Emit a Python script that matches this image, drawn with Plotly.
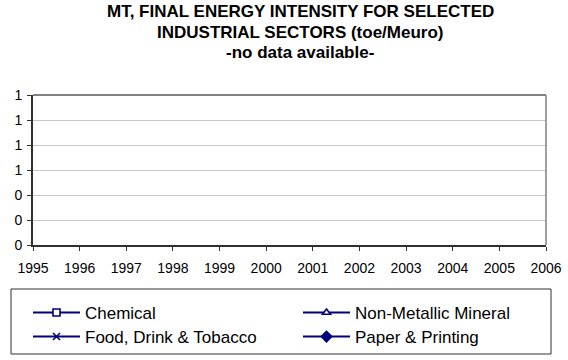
import plotly.graph_objects as go

years = [1995, 1996, 1997, 1998, 1999, 2000, 2001, 2002, 2003, 2004, 2005, 2006]
chemical = [None, None, None, None, None, None, None, None, None, None, None, None]
non_metallic = [None, None, None, None, None, None, None, None, None, None, None, None]
food = [None, None, None, None, None, None, None, None, None, None, None, None]
paper = [None, None, None, None, None, None, None, None, None, None, None, None]

series_names = ["Chemical", "Non-Metallic Mineral", "Food, Drink & Tobacco", "Paper & Printing"]
series_values = [chemical, non_metallic, food, paper]
symbols = ["square", "triangle-up", "x-thin-open", "diamond"]
marker_fills = ["white", "white", "#000080", "#000080"]
marker_sizes = [7, 7, 7, 8]
title_lines = ["MT, FINAL ENERGY INTENSITY FOR SELECTED",
               "INDUSTRIAL SECTORS (toe/Meuro)",
               "-no data available-"]

FONT = "Arial, Liberation Sans, Helvetica, sans-serif"
NAVY = "#000080"
W, H = 568, 360
L, R, T, B = 33, 546, 95, 245  # plot area in px


def px_x(px):
    return (px - L) / (R - L)


def px_y(py):
    return (B - py) / (B - T)


# legend slots: (legend id, left px of item, center y px)
legend_ids = ["legend", "legend2", "legend3", "legend4"]
legend_pos = [(28, 313), (298, 313), (28, 337), (298, 337)]

fig = go.Figure()
for name, vals, sym, fill, msize, lid in zip(series_names, series_values, symbols,
                                             marker_fills, marker_sizes, legend_ids):
    fig.add_trace(go.Scatter(
        x=years, y=vals, name=name, mode="lines+markers",
        line=dict(color=NAVY, width=2),
        marker=dict(symbol=sym, size=msize, color=fill, line=dict(color=NAVY, width=1.6)),
        showlegend=True, legend=lid,
    ))

legend_layout = {}
for lid, (lx, ly) in zip(legend_ids, legend_pos):
    legend_layout[lid] = dict(
        x=lx / W, xanchor="left", y=1 - ly / H, yanchor="middle",
        xref="container", yref="container",
        borderwidth=0, bgcolor="rgba(0,0,0,0)",
        font=dict(family=FONT, size=17, color="black"),
        itemwidth=47,
    )

fig.update_layout(
    width=W, height=H,
    margin=dict(l=L, r=W - R, t=T, b=H - B, autoexpand=False),
    paper_bgcolor="white", plot_bgcolor="white",
    font=dict(family=FONT, size=14, color="black"),
    xaxis=dict(
        range=[years[0], years[-1]], tickmode="array", tickvals=years,
        ticktext=[str(y) for y in years],
        showline=True, linecolor="#303030", linewidth=1.5,
        ticks="outside", ticklen=4, tickcolor="#303030", tickwidth=1,
        showgrid=False, zeroline=False, automargin=False,
        ticklabelstandoff=5,
        tickfont=dict(family=FONT, size=14, color="black"),
    ),
    yaxis=dict(
        range=[0, 1.2], tickmode="linear", tick0=0, dtick=0.2, tickformat=".0f",
        showline=True, linecolor="#303030", linewidth=2,
        ticks="outside", ticklen=4, tickcolor="#303030", tickwidth=1,
        showgrid=True, gridcolor="#c8c8c8", gridwidth=1,
        zeroline=False, ticklabelstandoff=2, automargin=False,
        tickfont=dict(family=FONT, size=14, color="black"),
    ),
    **legend_layout,
)

# title as three centred bold lines
for txt, cy in zip(title_lines, [11.5, 32, 52]):
    fig.add_annotation(
        text="<b>" + txt + "</b>", xref="paper", yref="paper",
        x=px_x(300), y=px_y(cy), xanchor="center", yanchor="middle",
        showarrow=False, font=dict(family=FONT, size=17, color="black"),
    )

# gray frame on top and right of plot area
fig.add_shape(type="line", xref="paper", yref="paper", x0=0, x1=1, y0=1, y1=1,
              line=dict(color="#808080", width=2))
fig.add_shape(type="line", xref="paper", yref="paper", x0=1, x1=1, y0=0, y1=1,
              line=dict(color="#808080", width=1.5))

# legend frame
fig.add_shape(type="rect", xref="paper", yref="paper",
              x0=px_x(11), x1=px_x(551), y0=px_y(354), y1=px_y(289),
              line=dict(color="#303030", width=1), fillcolor="rgba(0,0,0,0)")

fig.write_html("out.html", config={"displayModeBar": False},
               post_script="document.body.style.margin='0';")
